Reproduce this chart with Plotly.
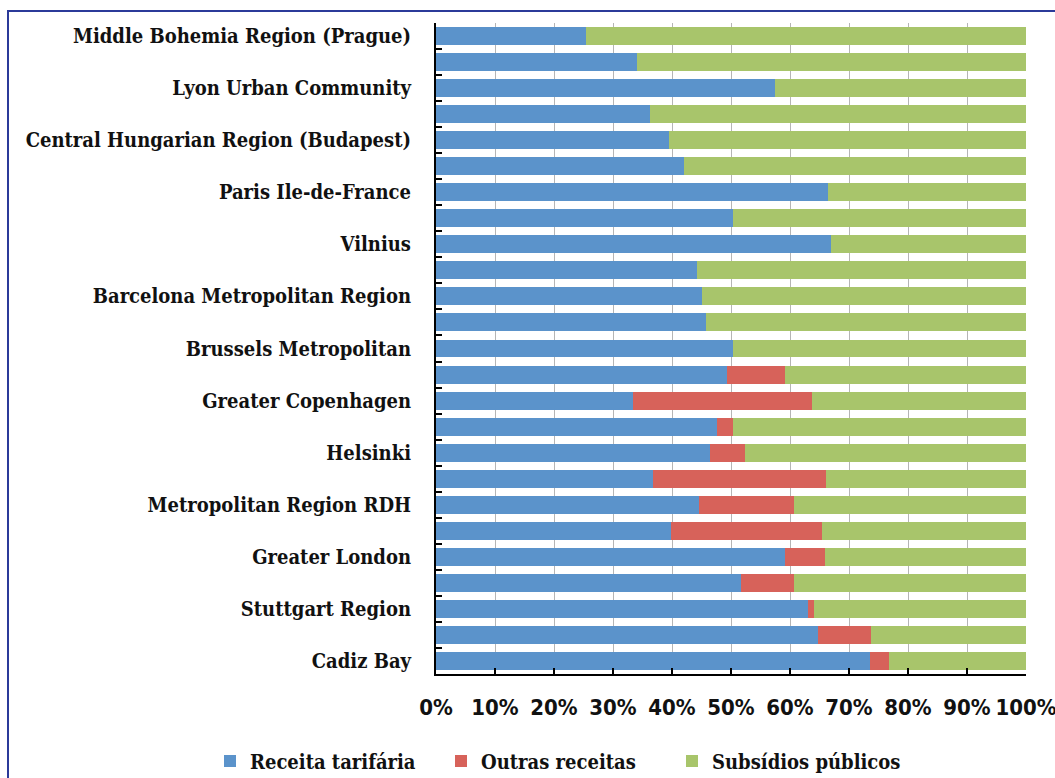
import plotly.graph_objects as go

# Categories, top to bottom (unlabeled rows are blank in the original chart)
regions = [
    "Middle Bohemia Region (Prague)", "", "Lyon Urban Community", "",
    "Central Hungarian Region (Budapest)", "", "Paris Ile-de-France", "",
    "Vilnius", "", "Barcelona Metropolitan Region", "", "Brussels Metropolitan", "",
    "Greater Copenhagen", "", "Helsinki", "", "Metropolitan Region RDH", "",
    "Greater London", "", "Stuttgart Region", "", "Cadiz Bay",
]

receita_tarifaria = [25.5, 34.1, 57.5, 36.2, 39.5, 42.0, 66.4, 50.4, 67.0, 44.2, 45.0, 45.8, 50.3,
                     49.3, 33.4, 47.6, 46.5, 36.7, 44.5, 39.8, 59.2, 51.7, 63.1, 64.8, 73.6]
outras_receitas = [0, 0, 0, 0, 0, 0, 0, 0, 0, 0, 0, 0, 0,
                   9.8, 30.4, 2.7, 5.8, 29.4, 16.1, 25.6, 6.8, 8.9, 0.9, 8.9, 3.1]
subsidios_publicos = [74.5, 65.9, 42.5, 63.8, 60.5, 58.0, 33.6, 49.6, 33.0, 55.8, 55.0, 54.2, 49.7,
                      40.9, 36.2, 49.7, 47.7, 33.9, 39.4, 34.6, 34.0, 39.4, 36.0, 26.3, 23.3]

x_ticks = [0, 10, 20, 30, 40, 50, 60, 70, 80, 90, 100]

# make blank category names unique (zero-width spaces)
cats = []
blank_count = 0
for r in regions:
    if r == "":
        blank_count += 1
        cats.append("\u200b" * blank_count)
    else:
        cats.append(r)

series = [
    ("Receita tarifária", receita_tarifaria, "#5B93CB"),
    ("Outras receitas", outras_receitas, "#D7625A"),
    ("Subsídios públicos", subsidios_publicos, "#A8C56B"),
]

fig = go.Figure()
for name, vals, color in series:
    fig.add_trace(go.Bar(
        y=cats, x=vals, name=name, orientation="h",
        marker=dict(color=color, line=dict(width=0)),
    ))

W, H = 1055, 778
ml, mr, mt, mb = 436, 29, 23, 104
pw, ph = W - ml - mr, H - mt - mb

serif_bold = "DejaVu Serif Condensed, DejaVu Serif, Liberation Serif, serif"
sans_cond = "DejaVu Sans Condensed, Liberation Sans Narrow, DejaVu Sans, sans-serif"

fig.update_layout(
    width=W, height=H,
    margin=dict(l=ml, r=mr, t=mt, b=mb, autoexpand=False),
    barmode="stack",
    bargap=0.31,
    paper_bgcolor="white",
    plot_bgcolor="white",
    showlegend=True,
    legend=dict(
        orientation="h",
        x=(210 - ml) / pw, xanchor="left",
        y=(mt + ph - 761) / ph, yanchor="middle",
        font=dict(family=serif_bold, size=20, color="#111111", weight="bold"),
        itemwidth=30,
        entrywidth=186, entrywidthmode="pixels",
        traceorder="normal",
    ),
    xaxis=dict(
        range=[0, 100],
        automargin=False,
        tickvals=x_ticks,
        ticktext=[f"{v}%" for v in x_ticks],
        ticks="inside", ticklen=6, tickcolor="black", tickwidth=1.5,
        showline=True, linecolor="black", linewidth=2,
        showgrid=True, gridcolor="#B5B5B5", gridwidth=1,
        zeroline=False,
        tickfont=dict(family=sans_cond, size=22, color="#111111", weight="bold"),
        ticklabelstandoff=13,
        ticklabeloverflow="allow",
        fixedrange=True,
    ),
    yaxis=dict(
        autorange="reversed",
        automargin=False,
        type="category",
        tickson="boundaries",
        ticks="inside", ticklen=6, tickcolor="black", tickwidth=2,
        showline=True, linecolor="black", linewidth=2,
        showgrid=False,
        tickfont=dict(family=serif_bold, size=20, color="#111111", weight="bold"),
        ticklabelstandoff=19,
        fixedrange=True,
    ),
    shapes=[
        dict(type="rect", xref="paper", yref="paper",
             x0=(8 - ml) / pw, x1=(W + 20 - ml) / pw,
             y0=(mt + ph - (H + 20)) / ph, y1=(mt + ph - 11) / ph,
             line=dict(color="#2B3A99", width=2), fillcolor="rgba(0,0,0,0)",
             layer="above"),
    ],
)

fig.write_html(
    "out.html",
    config={"displayModeBar": False},
    post_script="document.body.style.margin='0';document.body.style.overflow='hidden';",
)
